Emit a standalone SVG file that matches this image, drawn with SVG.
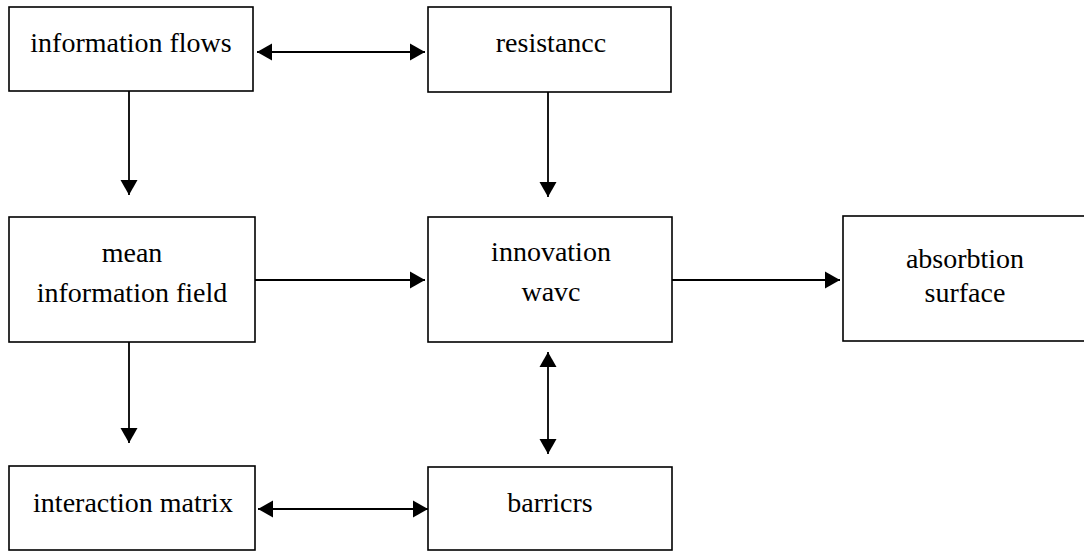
<svg xmlns="http://www.w3.org/2000/svg" width="1084" height="551" viewBox="0 0 1084 551">
<style>
.box{fill:#fff;stroke:#000;stroke-width:1.6}
.lbl{font-family:"Liberation Serif","Times New Roman",serif;font-size:28px;fill:#000;text-anchor:middle}
.con{stroke:#000;stroke-width:1.8;fill:none}
</style>
<defs>
<marker id="ah" markerUnits="userSpaceOnUse" markerWidth="18" markerHeight="18" refX="15" refY="9" orient="auto-start-reverse" viewBox="0 0 18 18">
<path d="M0,0.5 L15,9 L0,17.5 z" fill="#000"/>
</marker>
</defs>
<rect width="1084" height="551" fill="#fff"/>
<g id="connectors">
<line class="con" x1="257" y1="52" x2="425" y2="52" marker-start="url(#ah)" marker-end="url(#ah)"/>
<line class="con" x1="129" y1="91" x2="129" y2="195" marker-end="url(#ah)"/>
<line class="con" x1="548" y1="92" x2="548" y2="197" marker-end="url(#ah)"/>
<line class="con" x1="255" y1="280" x2="425" y2="280" marker-end="url(#ah)"/>
<line class="con" x1="672" y1="280" x2="840" y2="280" marker-end="url(#ah)"/>
<line class="con" x1="129" y1="342" x2="129" y2="443" marker-end="url(#ah)"/>
<line class="con" x1="548" y1="352" x2="548" y2="454" marker-start="url(#ah)" marker-end="url(#ah)"/>
<line class="con" x1="258" y1="509" x2="428" y2="509" marker-start="url(#ah)" marker-end="url(#ah)"/>
</g>
<g id="information-flows">
<rect class="box" x="9" y="7" width="244" height="84"/>
<text class="lbl" x="131" y="52">information flows</text>
</g>
<g id="resistance">
<rect class="box" x="428" y="7" width="243" height="85"/>
<text class="lbl" x="551" y="52">resistancc</text>
</g>
<g id="mean-information-field">
<rect class="box" x="9" y="217" width="246" height="125"/>
<text class="lbl" x="132" y="262">mean</text>
<text class="lbl" x="132" y="302">information field</text>
</g>
<g id="innovation-wave">
<rect class="box" x="428" y="217" width="244" height="125"/>
<text class="lbl" x="551" y="261">innovation</text>
<text class="lbl" x="551" y="301">wavc</text>
</g>
<g id="absorbtion-surface">
<rect class="box" x="843" y="216" width="250" height="125"/>
<text class="lbl" x="965" y="268">absorbtion</text>
<text class="lbl" x="965" y="302">surface</text>
</g>
<g id="interaction-matrix">
<rect class="box" x="9" y="466" width="246" height="84"/>
<text class="lbl" x="133" y="512">interaction matrix</text>
</g>
<g id="barriers">
<rect class="box" x="428" y="467" width="244" height="83"/>
<text class="lbl" x="550" y="512">barricrs</text>
</g>
</svg>
